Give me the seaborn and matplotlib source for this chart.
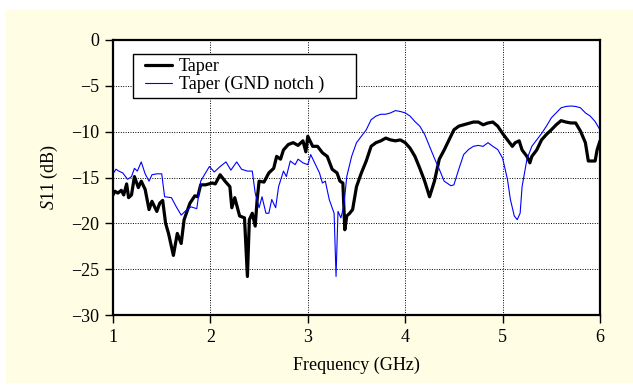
import numpy as np
import pandas as pd
import matplotlib
matplotlib.use("Agg")
import matplotlib.pyplot as plt
from matplotlib.patches import Rectangle
import seaborn as sns

# --- data ---
taper_freq = [1.0, 1.02, 1.05, 1.085, 1.11, 1.14, 1.16, 1.19, 1.22, 1.26, 1.29, 1.33, 1.37, 1.4,
              1.45, 1.48, 1.51, 1.54, 1.57, 1.62, 1.66, 1.7, 1.73, 1.79, 1.84, 1.87, 1.9, 1.95,
              2.02, 2.05, 2.1, 2.15, 2.2, 2.22, 2.25, 2.3, 2.35, 2.38, 2.4, 2.43, 2.46, 2.48,
              2.5, 2.55, 2.6, 2.65, 2.68, 2.72, 2.75, 2.8, 2.85, 2.9, 2.95, 2.98, 3.0, 3.05,
              3.1, 3.15, 3.2, 3.25, 3.3, 3.33, 3.36, 3.38, 3.4, 3.43, 3.46, 3.5, 3.55, 3.6,
              3.65, 3.7, 3.75, 3.8, 3.85, 3.9, 3.95, 4.0, 4.05, 4.1, 4.15, 4.2, 4.25, 4.3,
              4.35, 4.4, 4.45, 4.5, 4.55, 4.6, 4.65, 4.7, 4.75, 4.8, 4.85, 4.9, 4.95, 5.0,
              5.05, 5.1, 5.13, 5.17, 5.2, 5.25, 5.28, 5.3, 5.35, 5.4, 5.45, 5.5, 5.55, 5.6,
              5.65, 5.7, 5.75, 5.8, 5.85, 5.88, 5.92, 5.95, 5.97, 6.0]
taper_s11 = [-16.9, -16.5, -16.7, -16.4, -16.9, -15.7, -17.2, -16.9, -14.9, -16.1, -15.4, -16.3,
             -18.5, -17.6, -18.7, -17.8, -17.5, -20.0, -21.1, -23.5, -21.1, -22.2, -19.6, -17.8,
             -17.0, -17.1, -15.8, -15.8, -15.6, -15.7, -14.7, -15.4, -16.0, -18.3, -17.2, -19.2,
             -19.4, -25.8, -19.6, -18.9, -20.3, -17.4, -15.4, -15.5, -14.5, -14.0, -12.7, -13.0,
             -12.0, -11.4, -11.2, -11.5, -11.0, -12.2, -10.5, -11.6, -11.6, -12.3, -12.7, -14.1,
             -14.5, -15.4, -15.6, -20.7, -19.2, -18.9, -18.5, -16.0, -14.5, -13.2, -11.6, -11.2,
             -11.0, -10.7, -10.9, -11.0, -10.9, -11.2, -11.8, -12.7, -14.0, -15.4, -17.1, -15.4,
             -13.0, -12.0, -10.9, -9.8, -9.4, -9.25, -9.1, -8.95, -8.95, -9.25, -9.05, -8.95,
             -9.4, -10.2, -10.9, -11.6, -11.2, -11.0, -12.0, -12.7, -13.4, -12.7, -12.0, -10.9,
             -10.3, -9.8, -9.25, -8.8, -8.95, -9.05, -9.05, -9.95, -11.2, -13.2, -13.2, -13.2,
             -12.0, -11.0]

notch_freq = [1.0, 1.03, 1.06, 1.1, 1.15, 1.19, 1.22, 1.25, 1.29, 1.33, 1.37, 1.4, 1.45, 1.5,
              1.53, 1.6, 1.65, 1.7, 1.75, 1.8, 1.86, 1.9, 1.95, 1.99, 2.04, 2.1, 2.16, 2.21,
              2.27, 2.32, 2.38, 2.43, 2.46, 2.5, 2.53, 2.57, 2.6, 2.63, 2.67, 2.7, 2.75, 2.78,
              2.82, 2.87, 2.9, 2.95, 3.0, 3.03, 3.07, 3.12, 3.15, 3.18, 3.22, 3.27, 3.29, 3.31,
              3.34, 3.37, 3.4, 3.45, 3.5, 3.55, 3.6, 3.65, 3.7, 3.75, 3.8, 3.85, 3.9, 3.95,
              4.0, 4.05, 4.1, 4.15, 4.2, 4.25, 4.3, 4.35, 4.4, 4.47, 4.5, 4.55, 4.6, 4.65,
              4.7, 4.75, 4.8, 4.85, 4.9, 4.95, 5.0, 5.05, 5.08, 5.12, 5.15, 5.18, 5.2, 5.25,
              5.3, 5.35, 5.4, 5.45, 5.5, 5.55, 5.6, 5.65, 5.7, 5.75, 5.8, 5.85, 5.9, 5.95, 6.0]
notch_s11 = [-14.6, -14.1, -14.3, -14.5, -15.2, -14.9, -14.0, -14.3, -13.3, -14.6, -15.4, -14.7,
             -14.6, -14.6, -17.1, -17.2, -18.2, -19.1, -18.6, -18.2, -18.4, -15.4, -14.5, -13.8,
             -14.4, -13.8, -13.3, -14.2, -13.3, -14.1, -14.3, -14.3, -16.7, -18.3, -17.1, -18.9,
             -18.9, -17.4, -18.3, -16.0, -14.3, -14.9, -13.2, -13.6, -13.0, -13.4, -13.6, -12.5,
             -13.4, -14.5, -15.6, -15.4, -17.4, -18.9, -25.8, -18.7, -19.4, -18.1, -14.9, -12.7,
             -11.2, -10.5, -9.8, -8.7, -8.3, -8.1, -8.1, -7.95, -7.7, -7.8, -7.95, -8.3, -8.9,
             -9.4, -10.3, -11.6, -12.9, -14.1, -15.4, -15.9, -15.8, -14.1, -12.5, -11.95, -11.6,
             -11.5, -11.6, -11.2, -11.6, -11.95, -12.9, -15.2, -17.4, -19.2, -19.6, -18.9, -16.0,
             -13.0, -11.6, -10.9, -10.2, -9.4, -8.5, -7.95, -7.4, -7.25, -7.2, -7.25, -7.4, -7.95,
             -8.3, -8.9, -9.8]

series_names = ["Taper", "Taper (GND notch )"]
x_ticks = [1, 2, 3, 4, 5, 6]
y_ticks = [0, -5, -10, -15, -20, -25, -30]

df = pd.concat([
    pd.DataFrame({"freq": taper_freq, "s11": taper_s11, "series": series_names[0]}),
    pd.DataFrame({"freq": notch_freq, "s11": notch_s11, "series": series_names[1]}),
], ignore_index=True)

sns.set_theme(style="white")
plt.rcParams["font.family"] = ["Liberation Serif", "DejaVu Serif"]
plt.rcParams["mathtext.fontset"] = "custom"
plt.rcParams["mathtext.rm"] = "Liberation Serif"
plt.rcParams["mathtext.it"] = "Liberation Serif:italic"

FS = 13
W, H = 633, 385
fig = plt.figure(figsize=(W / 100, H / 100), dpi=100, facecolor="white")
fig.patches.append(Rectangle((6 / W, 2 / H), (W - 6) / W, 373 / H,
                             transform=fig.transFigure, facecolor="#fffde3",
                             edgecolor="none", zorder=-10))

ax = fig.add_axes([113 / W, (H - 315) / H, 487 / W, 275 / H])
ax.set_facecolor("white")

palette = {series_names[0]: "black", series_names[1]: "#0000ff"}
sns.lineplot(data=df, x="freq", y="s11", hue="series", palette=palette,
             size="series", sizes={series_names[0]: 2.3, series_names[1]: 0.8},
             sort=False, estimator=None, ax=ax, legend=True)

ax.set_xlim(1, 6)
ax.set_ylim(-30, 0)
ax.set_xticks(x_ticks)
ax.set_yticks(y_ticks)
ax.set_xticklabels([str(t) for t in x_ticks])
ax.set_yticklabels([str(t).replace("-", "\u2212") for t in y_ticks])
ax.grid(True, color="black", linestyle=(0, (1, 1.5)), linewidth=0.7)
for s in ax.spines.values():
    s.set_color("black")
    s.set_linewidth(1.6)
ax.tick_params(axis="both", which="both", direction="out", length=6, width=1,
               color="black", labelsize=FS, labelcolor="black", pad=4,
               bottom=True, left=True)
ax.set_xlabel("Frequency (GHz)", fontsize=FS, color="black", labelpad=8)
ax.set_ylabel("$S$11 (dB)", fontsize=FS, color="black", labelpad=8)

# legend frame (drawn as a box) and legend entries
ax.add_patch(Rectangle((0.0435, 0.785), 0.4585, 0.16, transform=ax.transAxes,
                       facecolor="0.35", edgecolor="none", zorder=4.9))
ax.add_patch(Rectangle((0.041, 0.789), 0.458, 0.16, transform=ax.transAxes,
                       facecolor="white", edgecolor="black", linewidth=1.0, zorder=5))
handles, labels = ax.get_legend_handles_labels()
leg = ax.legend(handles=handles[:2], labels=series_names, loc="upper left",
                bbox_to_anchor=(0.066, 0.935), borderaxespad=0, borderpad=0,
                fontsize=FS, frameon=False, handlelength=1.5, handletextpad=0.35,
                labelspacing=0.05)
leg.set_zorder(6)
for t in leg.get_texts():
    t.set_color("black")

fig.savefig("out.png", dpi=100, facecolor="white")
